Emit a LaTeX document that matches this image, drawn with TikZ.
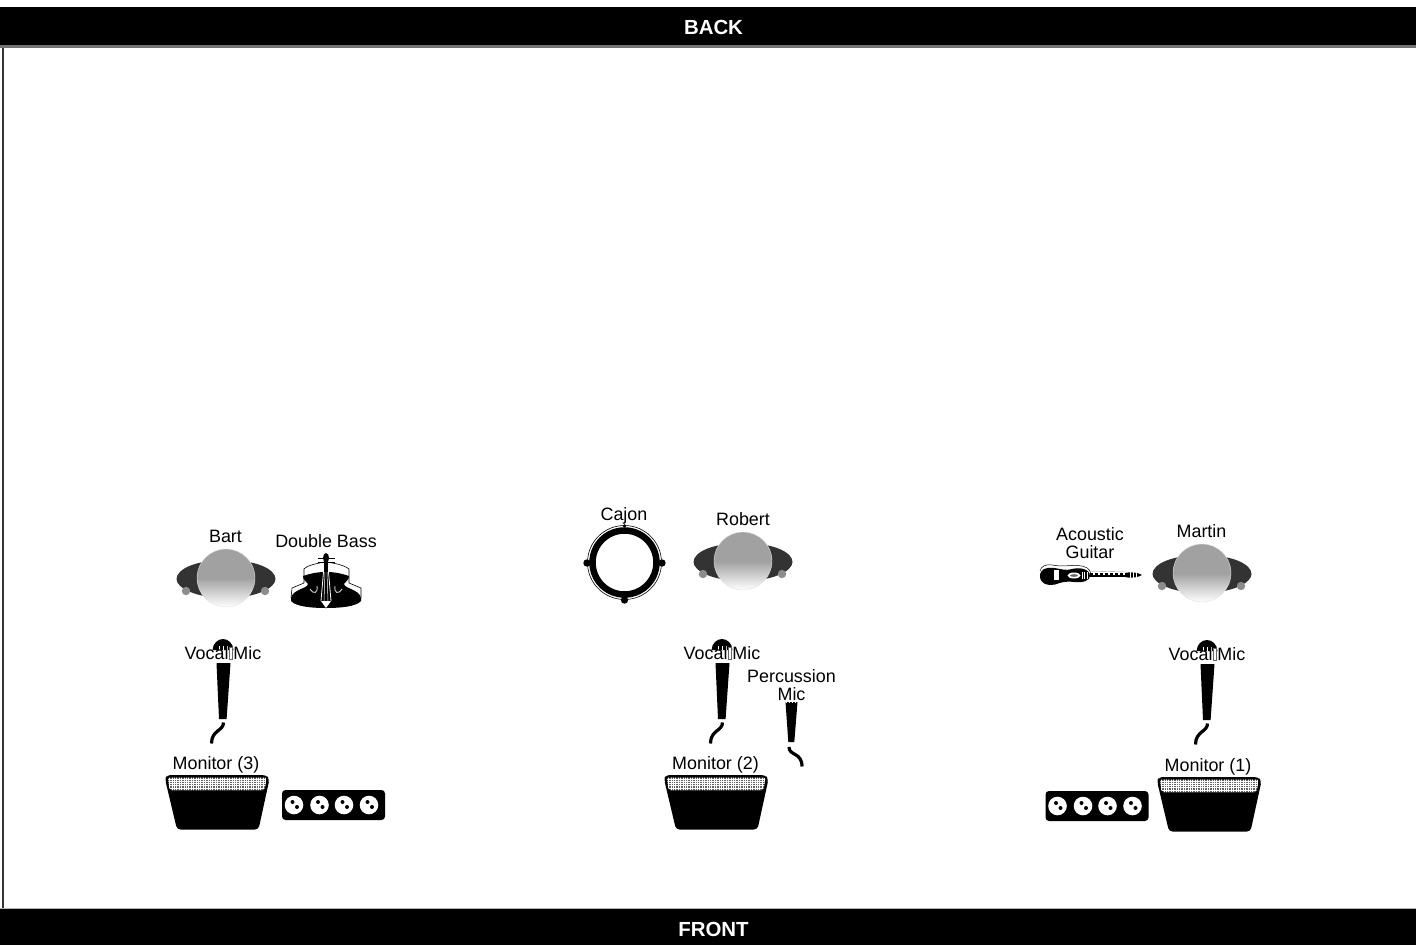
\documentclass[tikz,border=0pt]{standalone}
\usepackage{fontspec}
\setmainfont{Liberation Sans}
\definecolor{shoulder}{gray}{0.2}
\definecolor{handc}{gray}{0.55}
\definecolor{skin}{gray}{0.63}
\tikzset{
  x=1pt,y=-1pt,
  lab/.style={font=\fontsize{17.9}{18}\selectfont,align=center,inner sep=0pt,text=black},
  barlab/.style={font=\fontsize{20.4}{22}\selectfont\bfseries,text=white,inner sep=0pt},
  pics/person/.style={code={
    \fill[shoulder] (-49.5,1) .. controls (-49.5,-9) and (-30,-18) .. (0,-18) .. controls (30,-18) and (49.5,-9) .. (49.5,1) .. controls (49.5,10) and (30,20) .. (0,20) .. controls (-30,20) and (-49.5,10) .. (-49.5,1) -- cycle;
    \fill[handc] (-40,13) circle[radius=4.2];
    \fill[handc] (39,13) circle[radius=4.2];
    \begin{scope}
      \clip (0,0) circle[radius=29];
      \fill[skin] (-30,-30) rectangle (30,1);
      \shade[top color=skin,bottom color=white] (-30,0) rectangle (30,29);
    \end{scope}
    \draw[black!12,line width=.4] (0,0) circle[radius=29];
  }},
  pics/mic/.style={code={
    \fill (-10.5,-14) .. controls (-10,-21) and (-5,-25) .. (0,-25) .. controls (5,-25) and (10,-21) .. (10.5,-14) -- cycle;
    \draw[white,line width=.5] (-4,-18) -- (-4,-14) (0,-18) -- (0,-14) (4,-18) -- (4,-14);
    \fill (-6.5,-1) -- (7.5,-1) -- (3.6,55) -- (-4,55) -- cycle;
    \draw[line width=3.2] (0.5,58.5) .. controls (0.5,67) and (-11.5,66) .. (-11.5,79.5);
    \draw[black!60,line width=.8,fill=white] (6.6,-17) rectangle (9.2,-5);
  }},
  pics/monitor/.style={code={
    \fill[rounded corners=3.5] (-50,0) -- (49,0) -- (52.5,4) -- (41.5,54.5) -- (-40,54.5) -- (-52,4) -- cycle;
    \begin{scope}
      \clip[rounded corners=2] (-49,2.5) -- (49.5,2.5) -- (47.5,15) -- (-47.5,15) -- cycle;
      \fill[black!62] (-50,2) rectangle (50,16);
      \foreach \i in {-50,-47.6,...,50} \draw[white,line width=.4] (\i,2) -- (\i,16);
      \foreach \j in {4,6.2,8.4,10.6,12.8,15} \draw[white,line width=.4] (-50,\j) -- (50,\j);
    \end{scope}
  }},
  pics/socket/.style={code={
    \fill[rounded corners=3.5] (-51.5,-15) rectangle (51.5,15);
    \foreach \x in {-39.5,-14,10.5,35.5}{
      \fill[white] (\x,0) circle[radius=9.3];
      \fill (\x-1.5,-3) circle[radius=2];
      \fill (\x+3,2) circle[radius=2];
    }
  }}
}
\begin{document}
\begin{tikzpicture}
\useasboundingbox (0,0) rectangle (1416,945);
\fill[white] (0,0) rectangle (1416,945);
% stage frame
\draw[black!80,line width=2] (3,46) -- (3,908);
\fill[black] (0,7) rectangle (1416,45);
\fill[black!55] (0,45) rectangle (1416,47.5);
\fill[black] (0,909) rectangle (1416,945);
\fill[black!30] (0,907.5) rectangle (1416,909);
\node[barlab] (back) at (713.5,27) {BACK};
\node[barlab] (front) at (713.5,929) {FRONT};
% persons
\pic at (226,578) {person};
\pic at (743,561) {person};
\pic at (1202,573) {person};
\node[lab] (bart) at (225.5,536) {Bart};
\node[lab] (robert) at (743,519) {Robert};
\node[lab] (martin) at (1201.5,531) {Martin};
% Double bass
\begin{scope}[shift={(326,580)}]
  \draw[line width=.6] (-35,18) -- (-34,8) -- (-22,3) -- (-22,-11) .. controls (-18,-15) and (-8,-17) .. (0,-18) .. controls (8,-17) and (18,-15) .. (23,-11) -- (23,3) -- (35,8) -- (35,18);
  \fill (-23,-4) .. controls (-14,-7) and (-8,-8) .. (0,-8) .. controls (8,-8) and (14,-7) .. (23,-4) .. controls (23,0) and (20,1) .. (18,4) .. controls (19,9) and (33,9) .. (35,18) -- (35,21) .. controls (30,27) and (12,28) .. (0,28) .. controls (-12,28) and (-30,27) .. (-35,21) -- (-35,18) .. controls (-33,9) and (-19,9) .. (-18,4) .. controls (-20,1) and (-23,0) .. (-23,-4) -- cycle;
  \draw[white,line width=.8] (-2,-14) -- (-5,21) (2,-14) -- (5,21);
  \draw[white,line width=.5] (-.8,-14) -- (-2,21) (.8,-14) -- (2,21);
  \fill[white] (-5,21) -- (5,21) -- (0,28) -- cycle;
  \fill (-2.2,-18) rectangle (2.2,-8);
  \fill (0,-22) ellipse[x radius=3,y radius=5];
  \draw[line width=1.2] (-8.5,-21.5) -- (8.5,-21.5) (-8.5,-17.5) -- (8.5,-17.5);
  \draw[white!80!black,line width=.9] (-16,9) .. controls (-12,15) and (-8,13) .. (-9,6);
  \draw[white!80!black,line width=.9] (16,9) .. controls (12,15) and (8,13) .. (9,6);
\end{scope}
% Acoustic guitar
\begin{scope}[shift={(1040,575)}]
  \draw[line width=.5] (0,-4) .. controls (1,-9) and (6,-11) .. (12,-10) .. controls (22,-8) and (30,-10) .. (38,-9.5) .. controls (45,-9) and (50,-7) .. (51,-1);
  \draw[black!40,line width=.4] (50,-4) -- (86,-3);
  \fill (0,1) .. controls (0,-6) and (6,-8) .. (14,-7) .. controls (22,-6) and (26,-4) .. (32,-6) .. controls (40,-8) and (50,-6) .. (50,1) .. controls (50,6) and (42,8) .. (34,7) .. controls (26,6) and (22,7) .. (15,9.5) .. controls (6,11) and (0,8) .. (0,1) -- cycle;
  \fill[white] (14,-5) rectangle (18.5,5);
  \fill[white] (34,.5) ellipse[x radius=6.5,y radius=3];
  \fill[black!60] (34,.5) ellipse[x radius=4,y radius=1.3];
  \draw[white,line width=.9] (42,-3) -- (42,3.5) (44.5,-3) -- (44.5,3.5) (47,-3) -- (47,3.5);
  \fill (50,-2.3) rectangle (86,2.3);
  \foreach \i in {53,58,...,83} \draw[white,line width=1.2] (\i,-1) -- (\i+2.4,-1);
  \fill (86,-2.4) .. controls (92,-3) and (98,-2.5) .. (102,0) .. controls (98,2.5) and (92,3) .. (86,2.4) -- cycle;
  \draw[white,line width=.5] (90,-3) -- (90,3) (93,-3) -- (93,3) (96,-3) -- (96,3);
\end{scope}
\node[lab] (dblbass) at (326,541) {Double Bass};
\node[lab] (guitar) at (1090,543) {Acoustic\\Guitar};
% Cajon
\draw[line width=.6] (624.5,562.5) circle[radius=37];
\draw[line width=6.5] (624.5,562.5) circle[radius=32];
\fill (587,563) circle[radius=3.7] (662,563) circle[radius=3.7] (624.5,600) circle[radius=3.7];
\fill (624.5,526) circle[radius=1.8];
\node[lab] (cajon) at (624,516) {Cajon};
% Vocal mics
\pic at (223,664) {mic};
\pic at (722,664) {mic};
\pic at (1207,665) {mic};
\node[lab] (v1) at (223,653) {Vocal Mic};
\node[lab] (v2) at (722,653) {Vocal Mic};
\node[lab] (v3) at (1207,654) {Vocal Mic};
% Percussion mic
\begin{scope}[shift={(791.5,702)}]
  \fill (-6,0) -- (6,0) -- (2.8,40) -- (-3.2,40) -- cycle;
  \draw[line width=3.2] (-2.5,45) .. controls (-2.5,54) and (10.5,50) .. (10.5,64.5);
  \draw[white,line width=.8,dash pattern=on 1pt off 2pt] (-6,0.5) -- (6,0.5);
\end{scope}
\node[lab] (pm) at (791.5,685.5) {Percussion\\Mic};
% Monitors
\pic at (217,775) {monitor};
\pic at (716,775) {monitor};
\pic at (1209,777) {monitor};
\node[lab,yshift=-1.5pt] (m3) at (216,763) {Monitor (3)};
\node[lab,yshift=-1.5pt] (m2) at (715.5,763) {Monitor (2)};
\node[lab,yshift=-1.5pt] (m1) at (1208,765) {Monitor (1)};
% sockets
\pic at (333.5,805) {socket};
\pic at (1097,806) {socket};
\end{tikzpicture}
\end{document}
